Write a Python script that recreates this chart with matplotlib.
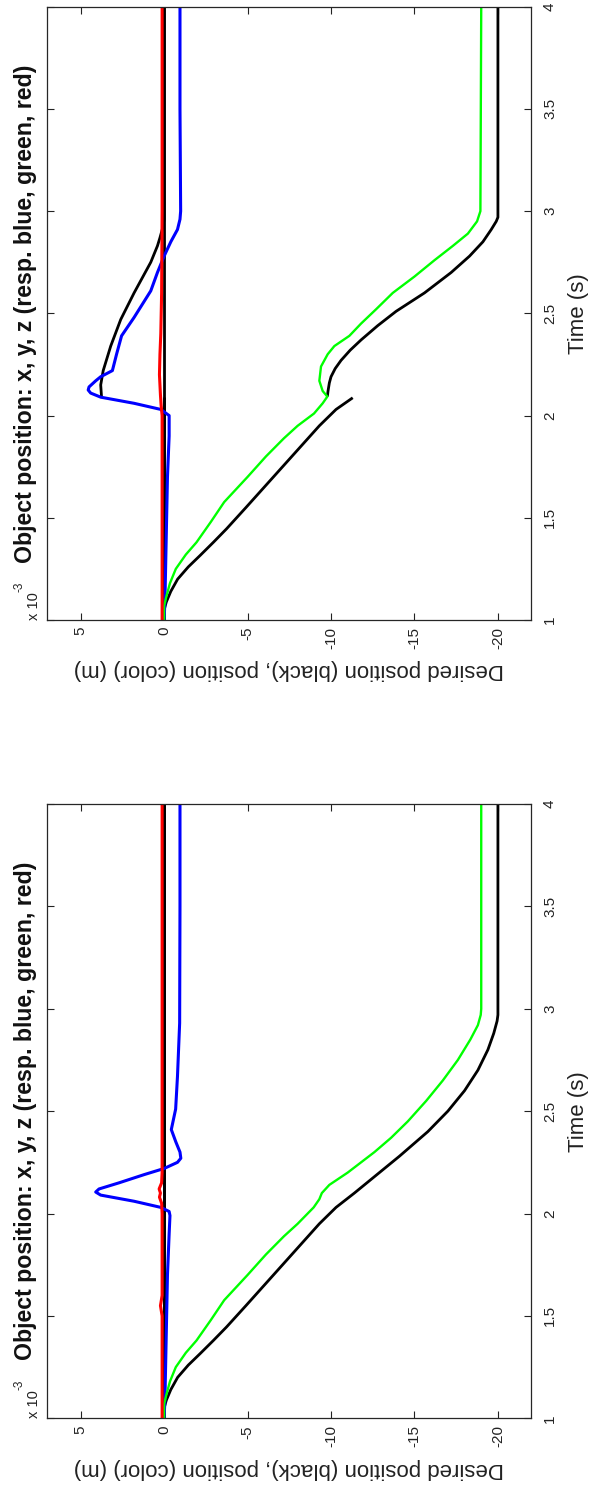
import matplotlib
matplotlib.use("Agg")
import matplotlib.pyplot as plt

plt.rcParams["font.family"] = ["Liberation Sans", "DejaVu Sans"]
plt.rcParams["axes.unicode_minus"] = False

# ---------------- data (positions in 1e-3 m, time in s) ----------------
value_ticks = [5, 0, -5, -10, -15, -20]
time_ticks = [1, 1.5, 2, 2.5, 3, 3.5, 4]
time_tick_labels = ["1", "1.5", "2", "2.5", "3", "3.5", "4"]

# Upper panel: trajectory re-planned at t = 2.09 s
up_des_y1_t = [1.00, 1.05, 1.088, 1.14, 1.20, 1.26, 1.316, 1.38, 1.446, 1.55, 1.65, 1.75, 1.85,
               1.95, 2.03, 2.087]
up_des_y1_v = [0.0, 0.0, -0.13, -0.4, -0.81, -1.45, -2.16, -2.95, -3.74, -4.9, -6.0, -7.1, -8.2,
               -9.3, -10.3, -11.3]
up_des_y2_t = [2.093, 2.12, 2.16, 2.19, 2.23, 2.27, 2.32, 2.37, 2.44, 2.51, 2.60, 2.70, 2.78,
               2.85, 2.91, 2.95, 2.97, 4.00]
up_des_y2_v = [-9.78, -9.82, -9.9, -10.0, -10.25, -10.6, -11.15, -11.8, -12.8, -13.9, -15.6, -17.2,
               -18.3, -19.1, -19.6, -19.9, -20.0, -20.0]
up_des_x1_t = [1.00, 2.09]
up_des_x1_v = [0.0, 0.0]
up_des_x2_t = [2.09, 2.15, 2.22, 2.34, 2.47, 2.60, 2.75, 2.83, 2.87, 2.92, 2.96, 4.00]
up_des_x2_v = [3.75, 3.8, 3.65, 3.2, 2.6, 1.8, 0.8, 0.4, 0.25, 0.08, 0.0, 0.0]
up_des_z_t = [1.00, 4.00]
up_des_z_v = [0.0, 0.0]

up_x_t = [1.00, 1.10, 1.30, 1.50, 1.70, 1.90, 2.00, 2.03, 2.06, 2.09, 2.11, 2.125, 2.14, 2.17,
          2.19, 2.22, 2.30, 2.39, 2.48, 2.61, 2.70, 2.78, 2.85, 2.91, 2.96, 3.00, 3.50, 4.00]
up_x_v = [0.0, -0.05, -0.1, -0.15, -0.2, -0.3, -0.3, 0.2, 1.8, 3.8, 4.4, 4.55, 4.5, 4.1,
          3.8, 3.1, 2.85, 2.55, 1.8, 0.8, 0.4, 0.0, -0.4, -0.8, -0.95, -0.99, -0.95, -0.95]
up_y_t = [1.00, 1.07, 1.12, 1.18, 1.25, 1.32, 1.38, 1.48, 1.577, 1.70, 1.80, 1.889, 1.95, 2.01,
          2.06, 2.093, 2.12, 2.17, 2.24, 2.30, 2.34, 2.39, 2.45, 2.52, 2.60, 2.68, 2.76, 2.83,
          2.89, 2.95, 3.00, 4.00]
up_y_v = [0.0, 0.0, -0.15, -0.35, -0.7, -1.3, -1.94, -2.8, -3.6, -5.0, -6.1, -7.18, -8.0, -8.98,
          -9.5, -9.78, -9.5, -9.3, -9.4, -9.8, -10.2, -11.1, -11.8, -12.7, -13.7, -15.0, -16.2,
          -17.3, -18.2, -18.75, -18.95, -19.0]
up_z_t = [1.00, 1.90, 2.00, 2.05, 2.10, 2.20, 2.30, 2.40, 2.60, 3.00, 4.00]
up_z_v = [0.12, 0.12, 0.12, 0.18, 0.22, 0.28, 0.25, 0.2, 0.15, 0.12, 0.12]

# Lower panel: single uninterrupted trajectory
lo_des_y_t = [1.00, 1.05, 1.088, 1.14, 1.20, 1.26, 1.316, 1.38, 1.446, 1.55, 1.65, 1.75, 1.85,
              1.95, 2.03, 2.10, 2.20, 2.28, 2.40, 2.50, 2.60, 2.70, 2.80, 2.88, 2.94, 2.97, 4.00]
lo_des_y_v = [0.0, 0.0, -0.13, -0.4, -0.81, -1.45, -2.16, -2.95, -3.74, -4.9, -6.0, -7.1, -8.2,
              -9.3, -10.3, -11.4, -12.9, -14.1, -15.8, -17.0, -18.0, -18.8, -19.4, -19.75,
              -19.95, -20.0, -20.0]
lo_des_x_t = [1.00, 4.00]
lo_des_x_v = [0.0, 0.0]
lo_des_z_t = [1.00, 4.00]
lo_des_z_v = [0.0, 0.0]

lo_x_t = [1.00, 1.10, 1.30, 1.50, 1.70, 1.90, 1.99, 2.01, 2.03, 2.06, 2.09, 2.105, 2.12, 2.15,
          2.19, 2.22, 2.25, 2.27, 2.30, 2.35, 2.41, 2.51, 2.67, 2.93, 3.50, 4.00]
lo_x_v = [0.0, -0.05, -0.1, -0.15, -0.2, -0.3, -0.35, -0.3, 0.2, 1.8, 3.8, 4.1, 3.9, 2.7,
          1.2, 0.0, -0.8, -1.0, -0.95, -0.7, -0.43, -0.69, -0.8, -0.93, -0.95, -0.95]
lo_y_t = [1.00, 1.07, 1.12, 1.18, 1.25, 1.32, 1.38, 1.48, 1.577, 1.70, 1.80, 1.889, 1.95, 2.03,
          2.07, 2.10, 2.14, 2.20, 2.30, 2.37, 2.45, 2.55, 2.65, 2.75, 2.85, 2.92, 2.97, 3.00,
          4.00]
lo_y_v = [0.0, 0.0, -0.15, -0.35, -0.7, -1.3, -1.94, -2.8, -3.6, -5.0, -6.1, -7.18, -8.0, -8.96,
          -9.3, -9.45, -9.9, -11.0, -12.6, -13.6, -14.6, -15.7, -16.7, -17.6, -18.35, -18.8,
          -18.97, -19.0, -19.0]
lo_z_t = [1.00, 1.50, 1.55, 1.60, 2.00, 2.05, 2.08, 2.10, 2.12, 2.15, 2.20, 4.00]
lo_z_v = [0.12, 0.12, 0.22, 0.12, 0.12, 0.15, 0.28, 0.22, 0.3, 0.15, 0.12, 0.12]

title = "Object position: x, y, z (resp. blue, green, red)"
value_label = "Desired position (black), position (color) (m)"
time_label = "Time (s)"

# ---------------- figure ----------------
W, H = 589, 1487
fig = plt.figure(figsize=(W / 100, H / 100), dpi=100)
INK = "#222222"


def frame(top_px, bottom_px):
    left_px, right_px = 47.3, 531.3
    return [left_px / W, (H - bottom_px) / H, (right_px - left_px) / W, (bottom_px - top_px) / H]


def draw_panel(ax, desired, measured):
    for t, v in desired:
        ax.plot(v, t, color="k", lw=2.0, solid_capstyle="butt")
    for (t, v), c, lw in measured:
        ax.plot(v, t, color=c, lw=lw, solid_capstyle="butt")

    ax.set_xlim(7, -22)
    ax.set_ylim(1, 4)
    ax.set_xticks(value_ticks)
    ax.set_xticklabels([str(v) for v in value_ticks], rotation=90, fontsize=11)
    ax.set_yticks(time_ticks)
    ax.set_yticklabels(time_tick_labels, rotation=90, fontsize=11, va="center")
    ax.tick_params(direction="in", length=5, width=0.8, top=True, right=True,
                   labelleft=False, labelright=True, colors=INK, labelcolor=INK)
    ax.tick_params(axis="x", pad=5)
    ax.tick_params(axis="y", pad=8.5)
    for s in ax.spines.values():
        s.set_linewidth(0.9)
        s.set_color("#262626")

    ax.set_xlabel(value_label, rotation=180, fontsize=16, color=INK, va="center")
    ax.xaxis.set_label_coords(0.5, -0.0815)
    ax.yaxis.set_label_position("right")
    ax.set_ylabel(time_label, rotation=90, fontsize=16, color=INK, ha="center", va="center")
    ax.yaxis.set_label_coords(1.0965, 0.5)

    ax.text(-0.021, 0.5, title, transform=ax.transAxes, rotation=90, ha="right",
            va="center", fontsize=16.7, fontweight="bold", color="#111111")
    ax.text(-0.013, 0.0, "x 10", transform=ax.transAxes, rotation=90, ha="right",
            va="bottom", fontsize=10.5, color=INK)
    ax.text(-0.046, 0.046, "-3", transform=ax.transAxes, rotation=90, ha="right",
            va="bottom", fontsize=8.5, color=INK)


ax_up = fig.add_axes(frame(6.7, 620.0))
draw_panel(
    ax_up,
    [(up_des_y1_t, up_des_y1_v), (up_des_y2_t, up_des_y2_v), (up_des_x1_t, up_des_x1_v),
     (up_des_x2_t, up_des_x2_v), (up_des_z_t, up_des_z_v)],
    [((up_x_t, up_x_v), "#0000ff", 2.2), ((up_y_t, up_y_v), "#00ff00", 1.7),
     ((up_z_t, up_z_v), "#ff0000", 2.2)],
)

ax_lo = fig.add_axes(frame(804.0, 1418.3))
draw_panel(
    ax_lo,
    [(lo_des_y_t, lo_des_y_v), (lo_des_x_t, lo_des_x_v), (lo_des_z_t, lo_des_z_v)],
    [((lo_x_t, lo_x_v), "#0000ff", 2.2), ((lo_y_t, lo_y_v), "#00ff00", 1.7),
     ((lo_z_t, lo_z_v), "#ff0000", 2.2)],
)

fig.savefig("out.png", dpi=100)
